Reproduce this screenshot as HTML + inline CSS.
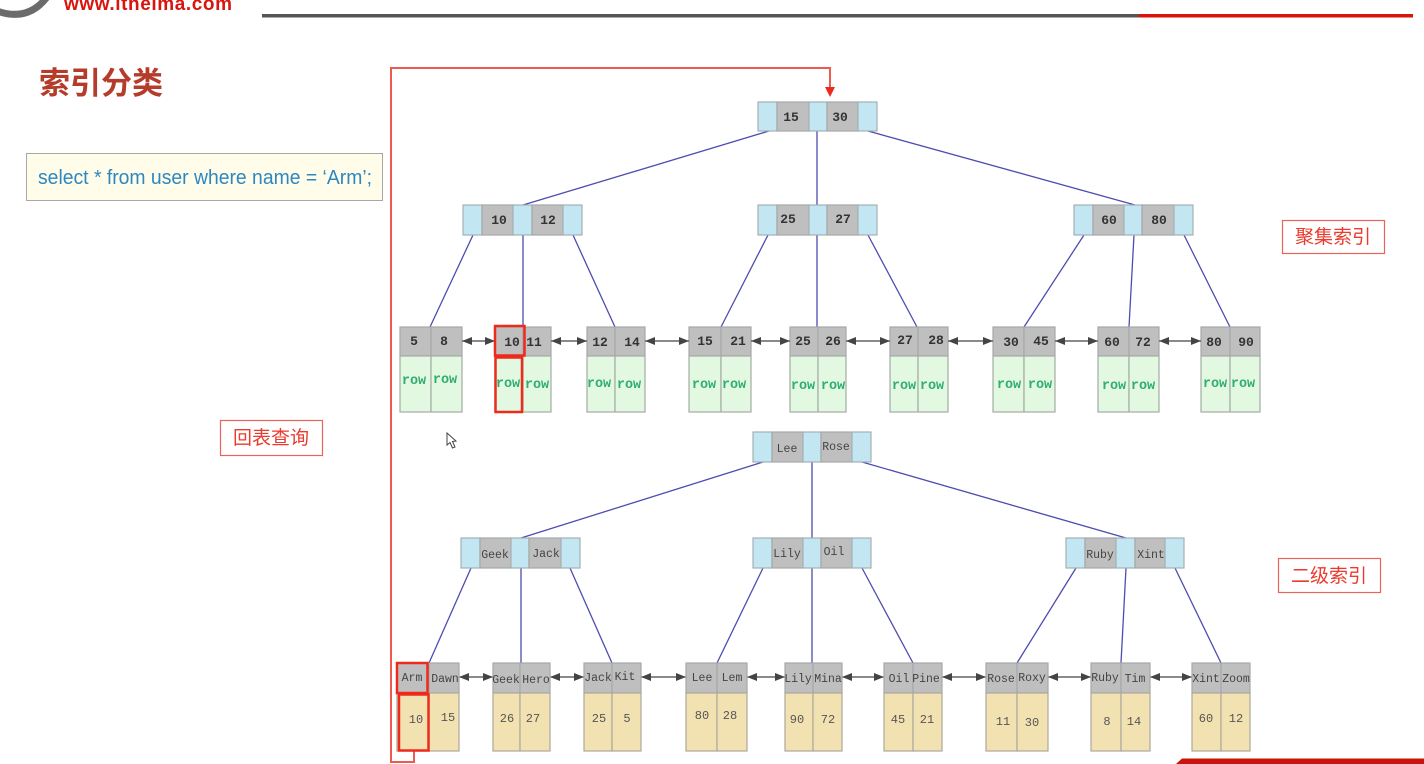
<!DOCTYPE html>
<html lang="zh"><head><meta charset="utf-8"><title>索引分类</title>
<style>
html,body{margin:0;padding:0;background:#fff;width:1424px;height:764px;overflow:hidden}
svg{display:block;filter:blur(.35px)}
.n{fill:#c0bfc0;stroke:#a5a8a8;stroke-width:1.2}
.b{fill:#c2e6f2;stroke:#a5b0b4;stroke-width:1.2}
.g{fill:#e2f8e0;stroke:#a3aca3;stroke-width:1.2}
.t{fill:#f3e2b1;stroke:#aca89c;stroke-width:1.2}
.e{stroke:#4d4db0;stroke-width:1.3;fill:none}
.a{stroke:#444;stroke-width:1.2;marker-start:url(#h1);marker-end:url(#h2)}
.k{font:bold 13px "Liberation Mono",monospace;fill:#333;text-anchor:middle}
.s{font:11.5px "Liberation Mono",monospace;fill:#444;text-anchor:middle}
.r{font:bold 13.5px "Liberation Mono",monospace;fill:#2fae70;text-anchor:middle}
.v{font:12px "Liberation Mono",monospace;fill:#555;text-anchor:middle}
.lab{fill:#fff;stroke:#e8635a;stroke-width:1.2}
.lt{font:19px "Liberation Sans","Noto Sans CJK SC",sans-serif;fill:#ec3a2e;text-anchor:middle}
.hl{fill:none;stroke:#ee2a1c;stroke-width:2.5}
</style></head><body>
<svg width="1424" height="764" viewBox="0 0 1424 764" xmlns="http://www.w3.org/2000/svg">
<defs>
<marker id="h1" markerUnits="userSpaceOnUse" markerWidth="10" markerHeight="8" refX="0" refY="4" orient="auto"><path d="M0 4L10 0V8Z" fill="#444"/></marker>
<marker id="h2" markerUnits="userSpaceOnUse" markerWidth="10" markerHeight="8" refX="10" refY="4" orient="auto"><path d="M10 4L0 0V8Z" fill="#444"/></marker>
</defs>
<rect width="1424" height="764" fill="#fff"/>

<!-- header -->
<path d="M-3 11Q28 22 47 -3" fill="none" stroke="#6b6b6b" stroke-width="7"/>
<text x="64" y="10" style="font:bold 19px 'Liberation Sans',sans-serif;fill:#d8150f" textLength="168">www.itheima.com</text>
<rect x="262" y="14" width="878" height="3.5" fill="#555"/>
<rect x="1139" y="14" width="274" height="3.5" fill="#d9150b"/>
<path d="M1176 764L1182 758.500H1424V764Z" fill="#c8140c"/>

<!-- title and query -->
<text x="39" y="94" style="font:bold 31px 'Liberation Sans','Noto Sans CJK SC',sans-serif;fill:#b53c2b" textLength="124">索引分类</text>
<rect x="26.500" y="153.500" width="356" height="47" fill="#fffde9" stroke="#a9a9a4" stroke-width="1"/>
<text x="38" y="184" style="font:20px 'Liberation Sans',sans-serif;fill:#2c87c2" textLength="334" lengthAdjust="spacingAndGlyphs">select * from user where name = ‘Arm’;</text>

<!-- edges -->
<g class="e">
<path d="M769 131L523 205M817 131V205M868 131L1135 205"/>
<path d="M473 235L430 327M523 235V327M573 235L615 327"/>
<path d="M768 235L721 327M817 235V327M868 235L917 327"/>
<path d="M1084 235L1024 327M1134 235L1129 327M1184 235L1230 327"/>
<path d="M763 462L521 538M812 462V538M862 462L1126 538"/>
<path d="M471 568L429 663M521 568V663M570 568L612 663"/>
<path d="M763 568L717 663M812 568V663M862 568L913 663"/>
<path d="M1076 568L1017 663M1126 568L1121 663M1175 568L1221 663"/>
</g>

<!-- clustered internal nodes -->
<g>
<rect class="b" x="758" y="102" width="19" height="29"/><rect class="n" x="777" y="102" width="32" height="29"/><rect class="b" x="809" y="102" width="18" height="29"/><rect class="n" x="827" y="102" width="31" height="29"/><rect class="b" x="858" y="102" width="19" height="29"/>
<rect class="b" x="463" y="205" width="19" height="30"/><rect class="n" x="482" y="205" width="31" height="30"/><rect class="b" x="513" y="205" width="19" height="30"/><rect class="n" x="532" y="205" width="31" height="30"/><rect class="b" x="563" y="205" width="19" height="30"/>
<rect class="b" x="758" y="205" width="19" height="30"/><rect class="n" x="777" y="205" width="32" height="30"/><rect class="b" x="809" y="205" width="18" height="30"/><rect class="n" x="827" y="205" width="31" height="30"/><rect class="b" x="858" y="205" width="19" height="30"/>
<rect class="b" x="1074" y="205" width="19" height="30"/><rect class="n" x="1093" y="205" width="31" height="30"/><rect class="b" x="1124" y="205" width="18" height="30"/><rect class="n" x="1142" y="205" width="32" height="30"/><rect class="b" x="1174" y="205" width="19" height="30"/>
</g>
<g class="k">
<text x="791" y="121">15</text><text x="840" y="121">30</text>
<text x="499" y="224">10</text><text x="548" y="224">12</text>
<text x="788" y="223">25</text><text x="843" y="223">27</text>
<text x="1109" y="224">60</text><text x="1159" y="224">80</text>
</g>

<!-- clustered leaves -->
<g>
<rect class="n" x="400" y="327" width="31" height="29"/><rect class="n" x="431" y="327" width="31" height="29"/><rect class="g" x="400" y="356" width="31" height="56"/><rect class="g" x="431" y="356" width="31" height="56"/>
<rect class="n" x="495" y="327" width="28" height="29"/><rect class="n" x="523" y="327" width="28" height="29"/><rect class="g" x="495" y="356" width="28" height="56"/><rect class="g" x="523" y="356" width="28" height="56"/>
<rect class="n" x="587" y="327" width="28" height="29"/><rect class="n" x="615" y="327" width="30" height="29"/><rect class="g" x="587" y="356" width="28" height="56"/><rect class="g" x="615" y="356" width="30" height="56"/>
<rect class="n" x="689" y="327" width="32" height="29"/><rect class="n" x="721" y="327" width="30" height="29"/><rect class="g" x="689" y="356" width="32" height="56"/><rect class="g" x="721" y="356" width="30" height="56"/>
<rect class="n" x="790" y="327" width="28" height="29"/><rect class="n" x="818" y="327" width="28" height="29"/><rect class="g" x="790" y="356" width="28" height="56"/><rect class="g" x="818" y="356" width="28" height="56"/>
<rect class="n" x="890" y="327" width="28" height="29"/><rect class="n" x="918" y="327" width="30" height="29"/><rect class="g" x="890" y="356" width="28" height="56"/><rect class="g" x="918" y="356" width="30" height="56"/>
<rect class="n" x="993" y="327" width="31" height="29"/><rect class="n" x="1024" y="327" width="31" height="29"/><rect class="g" x="993" y="356" width="31" height="56"/><rect class="g" x="1024" y="356" width="31" height="56"/>
<rect class="n" x="1098" y="327" width="31" height="29"/><rect class="n" x="1129" y="327" width="30" height="29"/><rect class="g" x="1098" y="356" width="31" height="56"/><rect class="g" x="1129" y="356" width="30" height="56"/>
<rect class="n" x="1201" y="327" width="29" height="29"/><rect class="n" x="1230" y="327" width="30" height="29"/><rect class="g" x="1201" y="356" width="29" height="56"/><rect class="g" x="1230" y="356" width="30" height="56"/>
</g>
<g class="k">
<text x="414" y="345">5</text><text x="444" y="345">8</text>
<text x="512" y="346">10</text><text x="534" y="346">11</text>
<text x="600" y="346">12</text><text x="632" y="346">14</text>
<text x="705" y="345">15</text><text x="738" y="345">21</text>
<text x="803" y="345">25</text><text x="833" y="345">26</text>
<text x="905" y="344">27</text><text x="936" y="344">28</text>
<text x="1011" y="346">30</text><text x="1041" y="345">45</text>
<text x="1112" y="346">60</text><text x="1143" y="346">72</text>
<text x="1214" y="346">80</text><text x="1246" y="346">90</text>
</g>
<g class="r">
<text x="414" y="384">row</text><text x="445" y="383">row</text>
<text x="508" y="387">row</text><text x="537" y="388">row</text>
<text x="599" y="387">row</text><text x="629" y="388">row</text>
<text x="704" y="388">row</text><text x="734" y="388">row</text>
<text x="803" y="389">row</text><text x="833" y="389">row</text>
<text x="904" y="389">row</text><text x="932" y="389">row</text>
<text x="1009" y="388">row</text><text x="1040" y="388">row</text>
<text x="1114" y="389">row</text><text x="1143" y="389">row</text>
<text x="1215" y="387">row</text><text x="1243" y="387">row</text>
</g>
<g class="a">
<path d="M462 341H495"/><path d="M551 341H587"/><path d="M645 341H689"/><path d="M751 341H790"/><path d="M846 341H890"/><path d="M948 341H993"/><path d="M1055 341H1098"/><path d="M1159 341H1201"/>
<path d="M459 677H493"/><path d="M550 677H584"/><path d="M641 677H686"/><path d="M747 677H785"/><path d="M842 677H884"/><path d="M942 677H986"/><path d="M1048 677H1091"/><path d="M1150 677H1192"/>
</g>

<!-- secondary internal nodes -->
<g>
<rect class="b" x="753" y="432" width="19" height="30"/><rect class="n" x="772" y="432" width="31" height="30"/><rect class="b" x="803" y="432" width="18" height="30"/><rect class="n" x="821" y="432" width="31" height="30"/><rect class="b" x="852" y="432" width="19" height="30"/>
<rect class="b" x="461" y="538" width="19" height="30"/><rect class="n" x="480" y="538" width="31" height="30"/><rect class="b" x="511" y="538" width="18" height="30"/><rect class="n" x="529" y="538" width="32" height="30"/><rect class="b" x="561" y="538" width="19" height="30"/>
<rect class="b" x="753" y="538" width="19" height="30"/><rect class="n" x="772" y="538" width="31" height="30"/><rect class="b" x="803" y="538" width="18" height="30"/><rect class="n" x="821" y="538" width="31" height="30"/><rect class="b" x="852" y="538" width="19" height="30"/>
<rect class="b" x="1066" y="538" width="19" height="30"/><rect class="n" x="1085" y="538" width="31" height="30"/><rect class="b" x="1116" y="538" width="19" height="30"/><rect class="n" x="1135" y="538" width="30" height="30"/><rect class="b" x="1165" y="538" width="19" height="30"/>
</g>
<g class="s">
<text x="787" y="452">Lee</text><text x="836" y="450">Rose</text>
<text x="495" y="558">Geek</text><text x="546" y="557">Jack</text>
<text x="787" y="557">Lily</text><text x="834" y="555">Oil</text>
<text x="1100" y="558">Ruby</text><text x="1151" y="558">Xint</text>
</g>

<!-- secondary leaves -->
<g>
<rect class="n" x="397" y="663" width="32" height="30"/><rect class="n" x="429" y="663" width="30" height="30"/><rect class="t" x="397" y="693" width="32" height="58"/><rect class="t" x="429" y="693" width="30" height="58"/>
<rect class="n" x="493" y="663" width="27" height="30"/><rect class="n" x="520" y="663" width="30" height="30"/><rect class="t" x="493" y="693" width="27" height="58"/><rect class="t" x="520" y="693" width="30" height="58"/>
<rect class="n" x="584" y="663" width="28" height="30"/><rect class="n" x="612" y="663" width="29" height="30"/><rect class="t" x="584" y="693" width="28" height="58"/><rect class="t" x="612" y="693" width="29" height="58"/>
<rect class="n" x="686" y="663" width="31" height="30"/><rect class="n" x="717" y="663" width="30" height="30"/><rect class="t" x="686" y="693" width="31" height="58"/><rect class="t" x="717" y="693" width="30" height="58"/>
<rect class="n" x="785" y="663" width="28" height="30"/><rect class="n" x="813" y="663" width="29" height="30"/><rect class="t" x="785" y="693" width="28" height="58"/><rect class="t" x="813" y="693" width="29" height="58"/>
<rect class="n" x="884" y="663" width="29" height="30"/><rect class="n" x="913" y="663" width="29" height="30"/><rect class="t" x="884" y="693" width="29" height="58"/><rect class="t" x="913" y="693" width="29" height="58"/>
<rect class="n" x="986" y="663" width="31" height="30"/><rect class="n" x="1017" y="663" width="31" height="30"/><rect class="t" x="986" y="693" width="31" height="58"/><rect class="t" x="1017" y="693" width="31" height="58"/>
<rect class="n" x="1091" y="663" width="30" height="30"/><rect class="n" x="1121" y="663" width="29" height="30"/><rect class="t" x="1091" y="693" width="30" height="58"/><rect class="t" x="1121" y="693" width="29" height="58"/>
<rect class="n" x="1192" y="663" width="29" height="30"/><rect class="n" x="1221" y="663" width="29" height="30"/><rect class="t" x="1192" y="693" width="29" height="58"/><rect class="t" x="1221" y="693" width="29" height="58"/>
</g>
<g class="s">
<text x="412" y="681">Arm</text><text x="445" y="682">Dawn</text>
<text x="506" y="683">Geek</text><text x="536" y="683">Hero</text>
<text x="598" y="681">Jack</text><text x="625" y="680">Kit</text>
<text x="702" y="681">Lee</text><text x="732" y="681">Lem</text>
<text x="798" y="682">Lily</text><text x="828" y="682">Mina</text>
<text x="899" y="682">Oil</text><text x="926" y="682">Pine</text>
<text x="1001" y="682">Rose</text><text x="1032" y="681">Roxy</text>
<text x="1105" y="681">Ruby</text><text x="1135" y="682">Tim</text>
<text x="1206" y="682">Xint</text><text x="1236" y="682">Zoom</text>
</g>
<g class="v">
<text x="416" y="723">10</text><text x="448" y="721">15</text>
<text x="507" y="722">26</text><text x="533" y="722">27</text>
<text x="599" y="722">25</text><text x="627" y="722">5</text>
<text x="702" y="719">80</text><text x="730" y="719">28</text>
<text x="797" y="723">90</text><text x="828" y="723">72</text>
<text x="898" y="723">45</text><text x="927" y="723">21</text>
<text x="1003" y="725">11</text><text x="1032" y="726">30</text>
<text x="1107" y="725">8</text><text x="1134" y="725">14</text>
<text x="1206" y="722">60</text><text x="1236" y="722">12</text>
</g>

<!-- red lookup path -->
<path d="M414 751V762H391V68H830V90" fill="none" stroke="#ee5a50" stroke-width="2"/>
<path d="M825 87H835L830 97Z" fill="#ee2a1c"/>
<rect class="hl" x="495" y="326" width="29.500" height="29.500"/>
<rect class="hl" x="495.500" y="357.500" width="26.500" height="54.500"/>
<rect class="hl" x="397" y="663" width="30.500" height="30"/>
<rect class="hl" x="399" y="694.500" width="29.500" height="56"/>

<!-- side labels -->
<rect class="lab" x="1282.500" y="220.500" width="102" height="33"/><text class="lt" x="1333" y="243">聚集索引</text>
<rect class="lab" x="1278.500" y="558.500" width="102" height="34"/><text class="lt" x="1329" y="582">二级索引</text>
<rect class="lab" x="220.500" y="420.500" width="102" height="35"/><text class="lt" x="271" y="444">回表查询</text>

<!-- cursor -->
<path d="M447 433V445L450 442.500L452.500 448L455 447L452.500 441.500L456 441Z" fill="#fff" stroke="#444" stroke-width="1"/>
</svg>
</body></html>
